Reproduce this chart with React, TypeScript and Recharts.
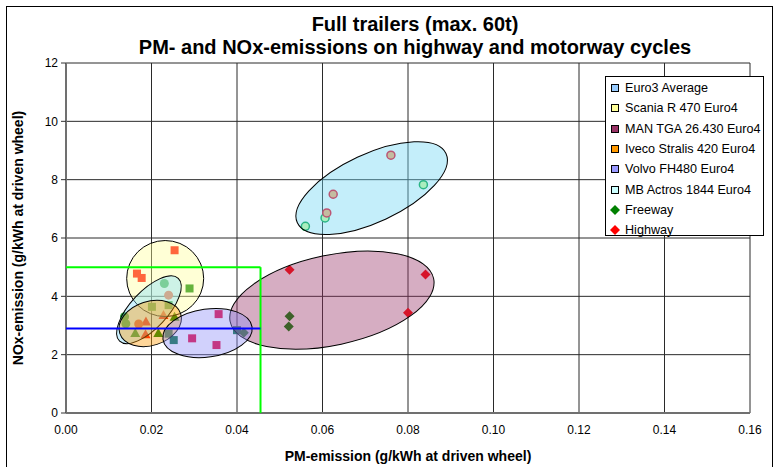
import React from 'react';
import {
  ScatterChart,
  Scatter,
  XAxis,
  YAxis,
  CartesianGrid,
  ReferenceLine,
  ReferenceDot,
  Legend,
} from 'recharts';

const FONT = '"Liberation Sans", Arial, Helvetica, sans-serif';

// ---- axis ticks ----
const xTicks = [0, 0.02, 0.04, 0.06, 0.08, 0.1, 0.12, 0.14, 0.16];
const yTicks = [0, 2, 4, 6, 8, 10, 12];

// ---- measured points (PM g/kWh, NOx g/kWh) ----
const euro3Freeway = [
  { pm: 0.023, nox: 4.44 },
  { pm: 0.0137, nox: 3.3 },
  { pm: 0.014, nox: 3.06 },
];
const euro3Highway = [
  { pm: 0.024, nox: 4.04 },
  { pm: 0.017, nox: 3.05 },
];
const scaniaFreeway = [
  { pm: 0.0289, nox: 4.27 },
  { pm: 0.0201, nox: 3.64 },
  { pm: 0.024, nox: 3.7 },
];
const scaniaHighway = [
  { pm: 0.0254, nox: 5.58 },
  { pm: 0.0166, nox: 4.78 },
  { pm: 0.0177, nox: 4.63 },
];
const manFreeway = [
  { pm: 0.0523, nox: 3.32 },
  { pm: 0.0521, nox: 2.97 },
  { pm: 0.0416, nox: 2.75 },
];
const manHighway = [
  { pm: 0.0523, nox: 4.91 },
  { pm: 0.0841, nox: 4.75 },
  { pm: 0.08, nox: 3.44 },
];
const ivecoFreeway = [
  { pm: 0.0254, nox: 3.3 },
  { pm: 0.0162, nox: 2.74 },
  { pm: 0.0216, nox: 2.74 },
];
const ivecoHighway = [
  { pm: 0.0228, nox: 3.36 },
  { pm: 0.0187, nox: 3.14 },
  { pm: 0.0186, nox: 2.7 },
];
const volvoFreeway = [
  { pm: 0.0252, nox: 2.5 },
  { pm: 0.04, nox: 2.84 },
  { pm: 0.024, nox: 2.72 },
];
const volvoHighway = [
  { pm: 0.0357, nox: 3.39 },
  { pm: 0.0295, nox: 2.56 },
  { pm: 0.0352, nox: 2.33 },
];
const mbFreeway = [
  { pm: 0.0836, nox: 7.83 },
  { pm: 0.0606, nox: 6.69 },
  { pm: 0.056, nox: 6.4 },
];
const mbHighway = [
  { pm: 0.076, nox: 8.84 },
  { pm: 0.0625, nox: 7.5 },
  { pm: 0.061, nox: 6.86 },
];

// ---- limit lines ----
const pmLimit = 0.0455;
const noxLimitHigh = 5.0;
const noxLimitLow = 2.9;

// ---- group ellipse centres (data units) ----
const groupCentres = [
  { name: 'MB Actros 1844 Euro4', pm: 0.0715, nox: 7.71 },
  { name: 'MAN TGA 26.430 Euro4', pm: 0.0622, nox: 3.87 },
  { name: 'Scania R 470 Euro4', pm: 0.0232, nox: 4.61 },
  { name: 'Euro3 Average', pm: 0.0194, nox: 3.54 },
  { name: 'Iveco Stralis 420 Euro4', pm: 0.0197, nox: 3.07 },
  { name: 'Volvo FH480 Euro4', pm: 0.0331, nox: 2.74 },
];

// ---- ellipse styles (pixel sizes / rotation / colours) ----
const ellipseStyle: Record<string, { rx: number; ry: number; angle: number; fill: string }> = {
  'MB Actros 1844 Euro4': { rx: 82, ry: 34, angle: -25, fill: '#6BD4F2' },
  'MAN TGA 26.430 Euro4': { rx: 104, ry: 45, angle: -12, fill: '#993366' },
  'Scania R 470 Euro4': { rx: 38.5, ry: 38, angle: 0, fill: '#FFFF99' },
  'Euro3 Average': { rx: 43, ry: 18.5, angle: -47, fill: '#82DEFF' },
  'Iveco Stralis 420 Euro4': { rx: 32, ry: 22, angle: -18, fill: '#FF9900' },
  'Volvo FH480 Euro4': { rx: 45, ry: 24, angle: -8, fill: '#8C8CF8' },
};

const legendItems = [
  { label: 'Euro3 Average', color: '#99CCFF', marker: 'square' },
  { label: 'Scania R 470 Euro4', color: '#FFFF99', marker: 'square' },
  { label: 'MAN TGA 26.430 Euro4', color: '#993366', marker: 'square' },
  { label: 'Iveco Stralis 420 Euro4', color: '#FF9900', marker: 'square' },
  { label: 'Volvo FH480 Euro4', color: '#9999FF', marker: 'square' },
  { label: 'MB Actros 1844 Euro4', color: '#CCFFFF', marker: 'square' },
  { label: 'Freeway', color: '#008000', marker: 'diamond' },
  { label: 'Highway', color: '#FF0000', marker: 'diamond' },
];

const GREEN = '#008000';
const RED = '#FF0000';

const squareShape = (color: string) => (p: any) => (
  <rect x={p.cx - 4} y={p.cy - 4} width={8} height={8} fill={color} />
);
const diamondShape = (color: string) => (p: any) => (
  <polygon
    points={`${p.cx},${p.cy - 5} ${p.cx + 5},${p.cy} ${p.cx},${p.cy + 5} ${p.cx - 5},${p.cy}`}
    fill={color}
  />
);
const triangleShape = (color: string) => (p: any) => (
  <polygon
    points={`${p.cx},${p.cy - 5} ${p.cx + 5},${p.cy + 4} ${p.cx - 5},${p.cy + 4}`}
    fill={color}
  />
);
const circleShape = (color: string) => (p: any) => (
  <circle cx={p.cx} cy={p.cy} r={4.5} fill={color} />
);
const ringShape = (stroke: string, fill: string) => (p: any) => (
  <circle cx={p.cx} cy={p.cy} r={4} fill={fill} stroke={stroke} strokeWidth={1.5} />
);

const LegendBox = () => (
  <div
    style={{
      width: 159,
      height: 160,
      border: '1px solid #000',
      background: '#fff',
      fontFamily: FONT,
      fontSize: 12.6,
      color: '#000',
      boxSizing: 'border-box',
      paddingTop: 1,
    }}
  >
    {legendItems.map((it) => (
      <div
        key={it.label}
        style={{ height: 20.3, display: 'flex', alignItems: 'center', whiteSpace: 'nowrap' }}
      >
        <svg width={16} height={12} style={{ flex: 'none', marginLeft: 3 }}>
          {it.marker === 'square' ? (
            <rect x={2.5} y={2.5} width={7} height={7} fill={it.color} stroke="#000" strokeWidth={1} />
          ) : (
            <polygon points="6,1 11,6 6,11 1,6" fill={it.color} />
          )}
        </svg>
        <span style={{ marginLeft: 0 }}>{it.label}</span>
      </div>
    ))}
  </div>
);

const YTitle = (props: any) => {
  const vb = props.viewBox || { x: 0, y: 63, width: 66, height: 350 };
  const x = vb.x + 18;
  const y = vb.y + vb.height / 2;
  return (
    <text
      x={x}
      y={y}
      transform={`rotate(-90 ${x} ${y})`}
      textAnchor="middle"
      dominantBaseline="central"
      fontFamily={FONT}
      fontSize={14}
      fontWeight="bold"
      fill="#000"
    >
      NOx-emission (g/kWh at driven wheel)
    </text>
  );
};

const XTitle = (props: any) => {
  const vb = props.viewBox || { x: 66, y: 413, width: 684, height: 30 };
  const x = vb.x + vb.width / 2;
  const y = 456;
  return (
    <text
      x={x}
      y={y}
      textAnchor="middle"
      dominantBaseline="central"
      fontFamily={FONT}
      fontSize={14}
      fontWeight="bold"
      fill="#000"
    >
      PM-emission (g/kWh at driven wheel)
    </text>
  );
};

export default function App() {
  const tickStyle = { fontFamily: FONT, fontSize: 12, fill: '#000' };
  return (
    <div style={{ position: 'relative', width: 780, height: 467, overflow: 'hidden', background: '#fff' }}>
      <style>{`html,body{margin:0;padding:0;overflow:hidden;background:#fff}`}</style>
      <div
        style={{
          position: 'absolute',
          left: 6,
          top: 6,
          width: 767,
          height: 480,
          border: '1px solid #000',
          boxSizing: 'border-box',
        }}
      />
      <div
        style={{
          position: 'absolute',
          left: 0,
          top: 13,
          width: 830,
          textAlign: 'center',
          fontFamily: FONT,
          fontWeight: 'bold',
          fontSize: 20,
          lineHeight: '23px',
          color: '#000',
        }}
      >
        <div>Full trailers (max. 60t)</div>
        <div>PM- and NOx-emissions on highway and motorway cycles</div>
      </div>
      <div style={{ position: 'absolute', left: 0, top: 0 }}>
        <ScatterChart width={780} height={467} margin={{ top: 63, right: 30, bottom: 24, left: 0 }}>
          <CartesianGrid stroke="#2a2a2a" strokeWidth={1} />
          <XAxis
            type="number"
            dataKey="pm"
            domain={[0, 0.16]}
            ticks={xTicks}
            tickFormatter={(v: number) => v.toFixed(2)}
            tick={tickStyle}
            height={30}
            tickLine={false}
            tickSize={6}
            tickMargin={6}
            axisLine={{ stroke: '#707070', strokeWidth: 2 }}
            allowDataOverflow
            label={<XTitle />}
          />
          <YAxis
            type="number"
            dataKey="nox"
            domain={[0, 12]}
            ticks={yTicks}
            tick={tickStyle}
            width={66}
            tickSize={5}
            tickMargin={3}
            tickLine={{ stroke: '#333' }}
            axisLine={{ stroke: '#707070', strokeWidth: 2 }}
            allowDataOverflow
            label={<YTitle />}
          />

          <Scatter name="Scania freeway" data={scaniaFreeway} shape={squareShape(GREEN)} isAnimationActive={false} legendType="none" />
          <Scatter name="Scania highway" data={scaniaHighway} shape={squareShape(RED)} isAnimationActive={false} legendType="none" />
          <Scatter name="Volvo freeway" data={volvoFreeway} shape={squareShape('#00703A')} isAnimationActive={false} legendType="none" />
          <Scatter name="Volvo highway" data={volvoHighway} shape={squareShape('#E8003A')} isAnimationActive={false} legendType="none" />
          <Scatter name="Iveco freeway" data={ivecoFreeway} shape={triangleShape(GREEN)} isAnimationActive={false} legendType="none" />
          <Scatter name="Iveco highway" data={ivecoHighway} shape={triangleShape(RED)} isAnimationActive={false} legendType="none" />
          <Scatter name="Euro3 freeway" data={euro3Freeway} shape={circleShape('#1E9E2E')} isAnimationActive={false} legendType="none" />
          <Scatter name="Euro3 highway" data={euro3Highway} shape={circleShape('#FF3A10')} isAnimationActive={false} legendType="none" />
          <Scatter name="MAN freeway" data={manFreeway} shape={diamondShape(GREEN)} isAnimationActive={false} legendType="none" />
          <Scatter name="MAN highway" data={manHighway} shape={diamondShape(RED)} isAnimationActive={false} legendType="none" />
          <Scatter name="MB freeway" data={mbFreeway} shape={ringShape('#00A040', '#D4FF9B')} isAnimationActive={false} legendType="none" />
          <Scatter name="MB highway" data={mbHighway} shape={ringShape('#F00020', '#FFAC69')} isAnimationActive={false} legendType="none" />

          {groupCentres.map((g) => {
            const s = ellipseStyle[g.name];
            return (
              <ReferenceDot
                key={g.name}
                x={g.pm}
                y={g.nox}
                ifOverflow="visible"
                zIndex={700}
                shape={(p: any) => (
                  <ellipse
                    cx={p.cx}
                    cy={p.cy}
                    rx={s.rx}
                    ry={s.ry}
                    transform={`rotate(${s.angle} ${p.cx} ${p.cy})`}
                    fill={s.fill}
                    fillOpacity={0.4}
                    stroke="#000"
                    strokeWidth={1}
                  />
                )}
              />
            );
          })}

          <ReferenceLine
            segment={[{ x: 0, y: noxLimitHigh }, { x: pmLimit, y: noxLimitHigh }]}
            stroke="#00FF00"
            strokeWidth={2}
            ifOverflow="visible"
            zIndex={800}
          />
          <ReferenceLine
            segment={[{ x: pmLimit, y: 0 }, { x: pmLimit, y: noxLimitHigh }]}
            stroke="#00FF00"
            strokeWidth={2}
            ifOverflow="visible"
            zIndex={800}
          />
          <ReferenceLine
            segment={[{ x: 0, y: noxLimitLow }, { x: pmLimit, y: noxLimitLow }]}
            stroke="#0000FF"
            strokeWidth={2}
            ifOverflow="visible"
            zIndex={800}
          />

          <Legend
            layout="vertical"
            align="center"
            verticalAlign="middle"
            wrapperStyle={{ top: 76, left: 605, width: 159, height: 160, right: 'auto', bottom: 'auto' }}
            content={() => <LegendBox />}
          />
        </ScatterChart>
      </div>
    </div>
  );
}
